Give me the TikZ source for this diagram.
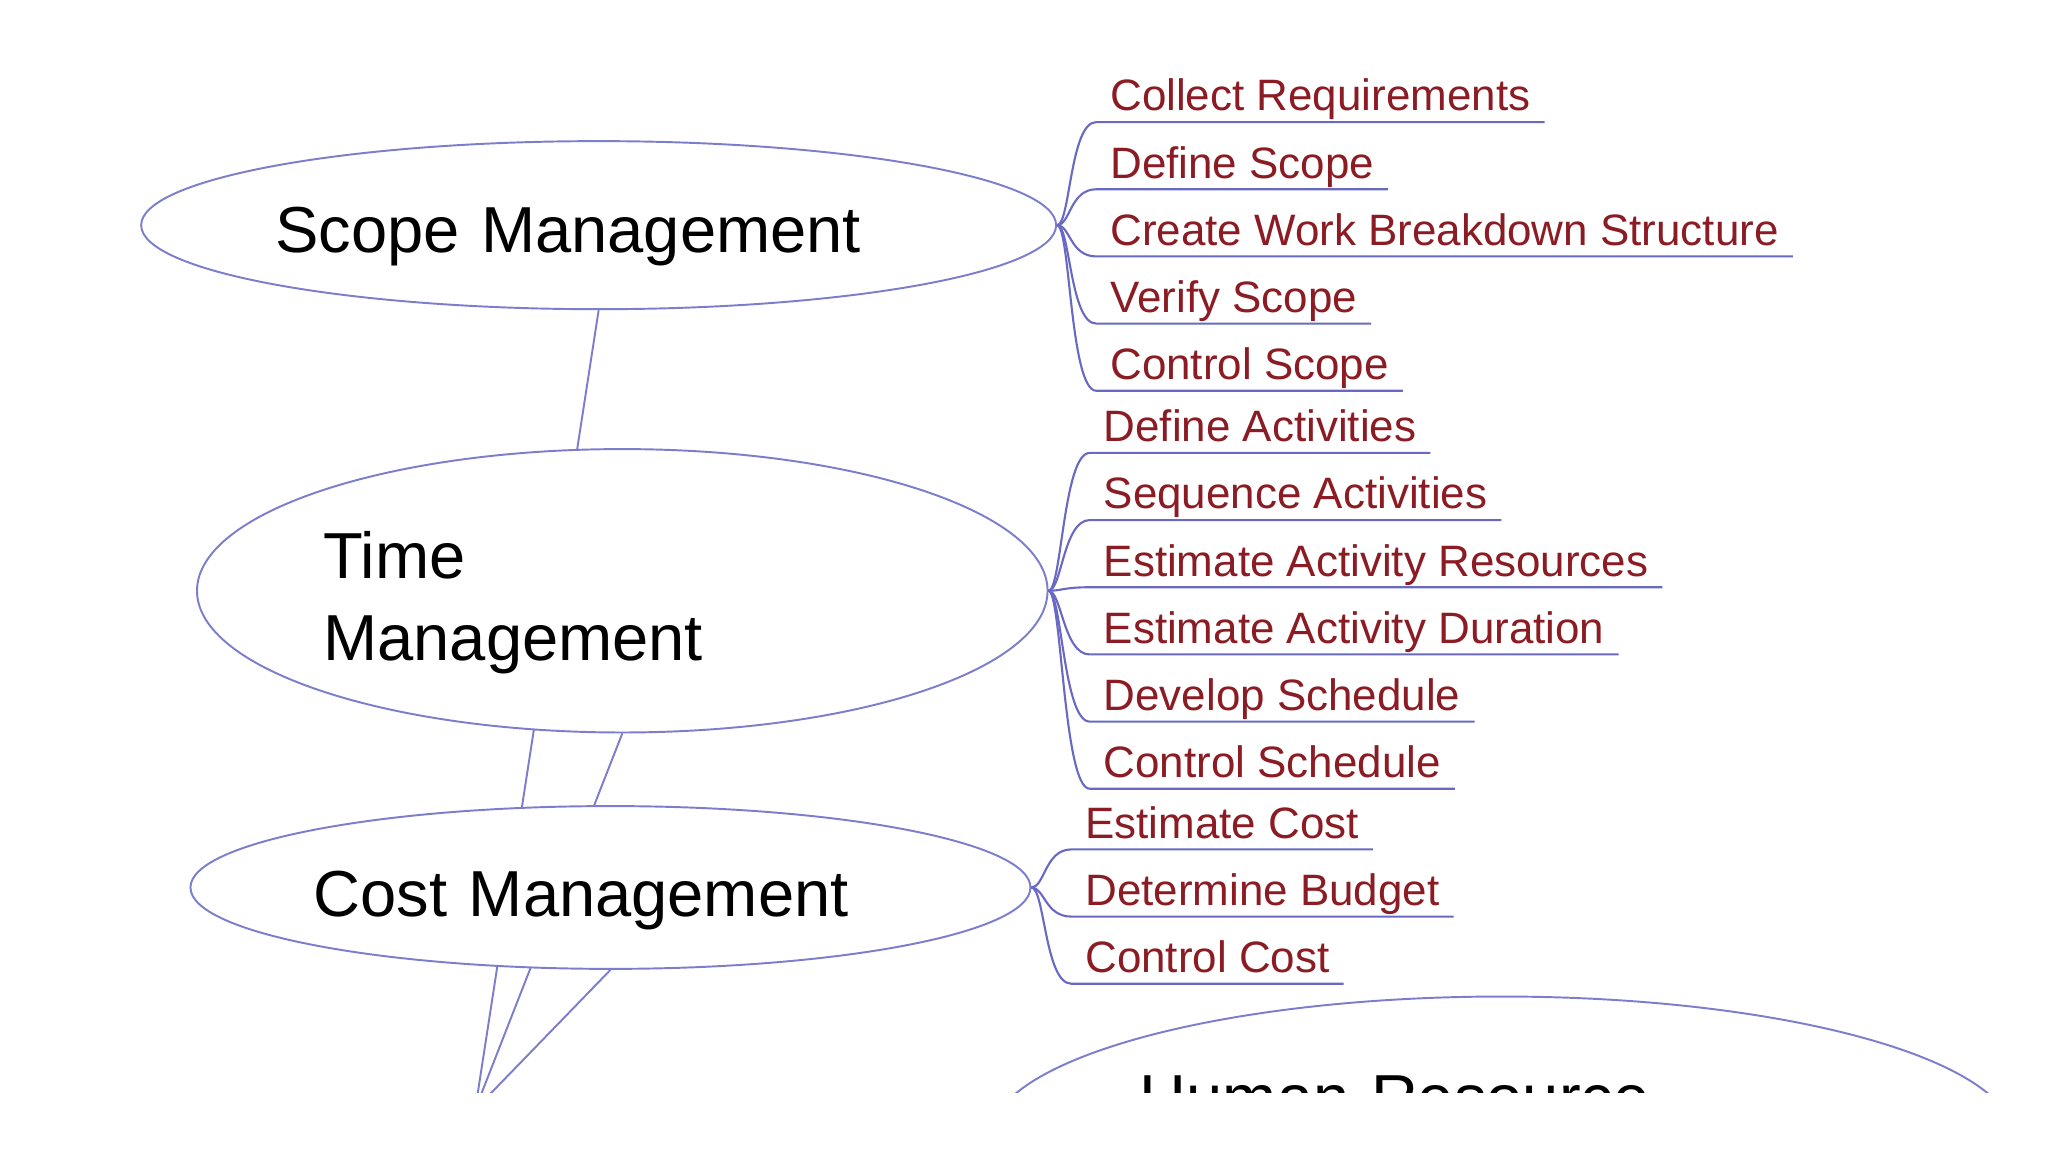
\documentclass[tikz,border=0pt]{standalone}
\usepackage{fontspec}
\setmainfont{Liberation Sans}
\usepackage{xcolor}
\usetikzlibrary{shapes.geometric, positioning, backgrounds}

\definecolor{bubbleline}{RGB}{125,125,205}
\definecolor{branchline}{RGB}{105,105,195}
\definecolor{taskred}{RGB}{140,28,36}

\begin{document}
\begin{tikzpicture}[
x=0.013128cm, y=-0.013128cm,
node distance=3.2pt,
bubble/.style={draw=bubbleline,
ellipse,
fill=white,
line width=0.55pt,
inner sep=0pt,
align=left,
font=\fontsize{18.5}{23.5}\selectfont},
task/.style={anchor=south west,
text=taskred,
inner xsep=3.8pt,
inner ysep=3pt,
text height=9.5pt,
text depth=0pt,
font=\fontsize{12.5}{15}\selectfont},
branch/.style={draw=branchline, line width=0.6pt},
link/.style={draw=bubbleline, line width=0.55pt} ]

\useasboundingbox (0,0) rectangle (1560,877.5);

\begin{scope}
\clip (0,0) rectangle (1560,832);

% main topics
\node[bubble, minimum width=260.2pt, minimum height=47.8pt, text width=184pt, text height=15.6pt, text depth=0pt] (scope) at (456,171.5) {Scope Management};
\node[bubble, minimum width=241.9pt, minimum height=80.6pt, text width=170pt, text height=20.1pt] (time) at (474,450) {Time\\Management};
\node[bubble, minimum width=238.9pt, minimum height=46.3pt, text width=168.9pt, text height=16.4pt, text depth=0pt] (cost) at (465,676) {Cost Management};
\node[bubble, minimum width=291.2pt, minimum height=80.6pt, text width=206pt, text height=17pt] (hr) at (1144,867) {Human Resource\\Management};

% links to the centre, behind the topics
\coordinate (hub) at (362,845);
\begin{scope}[on background layer]
\fill[white] (0,0) rectangle (1560,877.5);
\clip (0,0) rectangle (1560,832);
\draw[link] (hub) -- (scope.south);
\draw[link] (hub) -- (time.south);
\draw[link] (hub) -- (cost.south);
\end{scope}

% scope tasks
\node[task] (s1) at (835,93) {Collect Requirements};
\node[task, below=of s1.south west, anchor=north west] (s2) {Define Scope};
\node[task, below=of s2.south west, anchor=north west] (s3) {Create Work Breakdown Structure};
\node[task, below=of s3.south west, anchor=north west] (s4) {Verify Scope};
\node[task, below=of s4.south west, anchor=north west] (s5) {Control Scope};

% time tasks
\node[task] (t1) at (830,345) {Define Activities};
\node[task, below=of t1.south west, anchor=north west] (t2) {Sequence Activities};
\node[task, below=of t2.south west, anchor=north west] (t3) {Estimate Activity Resources};
\node[task, below=of t3.south west, anchor=north west] (t4) {Estimate Activity Duration};
\node[task, below=of t4.south west, anchor=north west] (t5) {Develop Schedule};
\node[task, below=of t5.south west, anchor=north west] (t6) {Control Schedule};

% cost tasks
\node[task] (c1) at (816,647) {Estimate Cost};
\node[task, below=of c1.south west, anchor=north west] (c2) {Determine Budget};
\node[task, below=of c2.south west, anchor=north west] (c3) {Control Cost};

\foreach \t in {s1,s2,s3,s4,s5}
  \draw[branch] (scope.east) .. controls +(10,0) and +(-20,0) .. (\t.south west) -- (\t.south east);
\foreach \t in {t1,t2,t3,t4,t5,t6}
  \draw[branch] (time.east) .. controls +(10,0) and +(-20,0) .. (\t.south west) -- (\t.south east);
\foreach \t in {c1,c2,c3}
  \draw[branch] (cost.east) .. controls +(10,0) and +(-20,0) .. (\t.south west) -- (\t.south east);

\end{scope}

\end{tikzpicture}
\end{document}
